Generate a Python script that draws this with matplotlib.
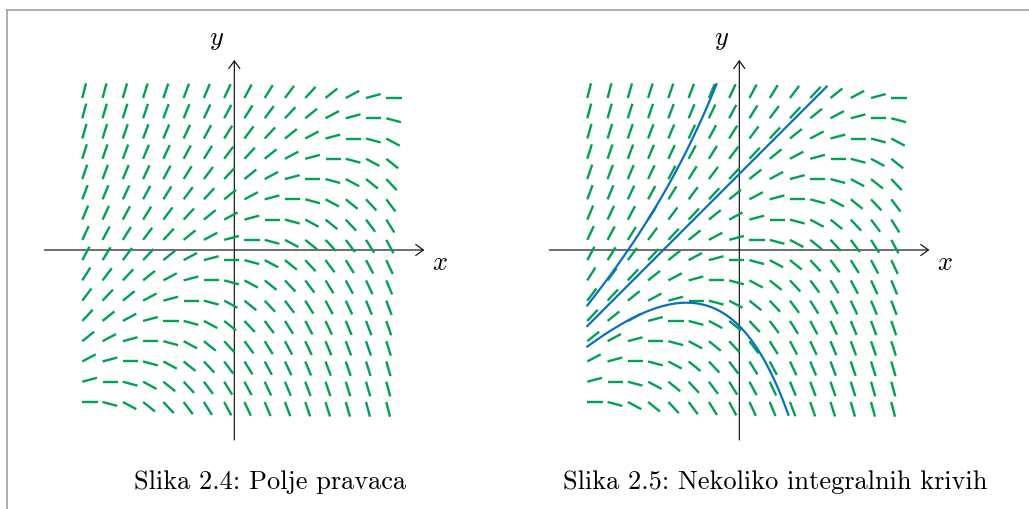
import numpy as np
import matplotlib
matplotlib.use("Agg")
import matplotlib.pyplot as plt
from matplotlib.collections import LineCollection
from matplotlib.lines import Line2D

plt.rcParams['mathtext.fontset'] = 'cm'

# ---- data ----
# slope field of y' = y - x on a 16 x 16 grid over [-2, 2]
grid_x = np.linspace(-2, 2, 16)
grid_y = np.linspace(-2, 2, 16)
seg_len = 0.2
# integral curves y = x + 1 + C e^x
curve_C = [2.0, 0.0, -2.0]
curve_x_start = [-2.0, -2.0, -2.0]
curve_x_end = [-0.30, 1.15, 0.645]
captions = ["Slika 2.4: Polje pravaca", "Slika 2.5: Nekoliko integralnih krivih"]
caption_x_px = [270, 775.5]

GREEN = '#00a055'
BLUE = '#0b6fc0'

W, H = 1029, 509
fig = plt.figure(figsize=(W / 100, H / 100), dpi=100)

unit = 76.0
origins = [(234.3, 250.0), (739.3, 250.0)]
xr, yr = 3.0, 3.2


def make_axes(ox, oy):
    left = (ox - xr * unit) / W
    bottom = (H - (oy + yr * unit)) / H
    ax = fig.add_axes([left, bottom, 2 * xr * unit / W, 2 * yr * unit / H])
    ax.set_xlim(-xr, xr)
    ax.set_ylim(-yr, yr)
    ax.axis('off')
    return ax


def slope(x, y):
    return y - x


def draw_field(ax):
    segs = []
    for x in grid_x:
        for y in grid_y:
            m = slope(x, y)
            n = np.hypot(1.0, m)
            dx, dy = seg_len / n, seg_len * m / n
            segs.append([(x, y), (x + dx, y + dy)])
    ax.add_collection(LineCollection(segs, colors=GREEN, linewidths=1.7,
                                     capstyle='butt', zorder=2))


def draw_axes(ax):
    ap = dict(arrowstyle='->,head_length=0.55,head_width=0.4', lw=0.8,
              color='black', shrinkA=0, shrinkB=0)
    ax.annotate('', xy=(2.5, 0), xytext=(-2.5, 0), arrowprops=ap, zorder=1)
    ax.annotate('', xy=(0, 2.5), xytext=(0, -2.5), arrowprops=ap, zorder=1)
    ax.text(-0.23, 2.70, r'$y$', fontsize=19, ha='center', va='baseline')
    ax.text(2.71, -0.263, r'$x$', fontsize=19, ha='center', va='baseline')


ax1 = make_axes(*origins[0])
draw_axes(ax1)
draw_field(ax1)

ax2 = make_axes(*origins[1])
draw_axes(ax2)
draw_field(ax2)
for C, x0, x1 in zip(curve_C, curve_x_start, curve_x_end):
    xs = np.linspace(x0, x1, 200)
    ys = xs + 1 + C * np.exp(xs)
    ax2.plot(xs, ys, color=BLUE, lw=1.6, zorder=3)

for txt, cx in zip(captions, caption_x_px):
    fig.text(cx / W, 1 - 489 / H, txt, fontsize=19, family='cmr10',
             ha='center', va='baseline')

# page frame
fig.add_artist(Line2D([7 / W, 1.0], [1 - 10 / H, 1 - 10 / H], color='#a0a0a0',
                      lw=1.2, transform=fig.transFigure))
fig.add_artist(Line2D([7 / W, 7 / W], [1 - 10 / H, 0.0], color='#a0a0a0',
                      lw=1.2, transform=fig.transFigure))

fig.savefig('out.png', dpi=100)
